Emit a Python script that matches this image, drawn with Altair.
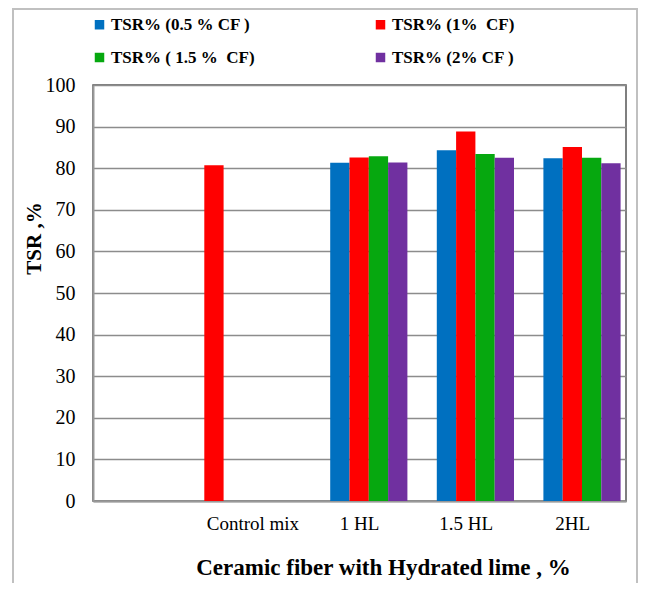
import altair as alt
import pandas as pd

categories = ["Control mix", "1 HL", "1.5 HL", "2HL"]
x_domain = [" "] + categories
series = ["TSR% (0.5 % CF )", "TSR% (1%\u00a0 CF)", "TSR% ( 1.5 %\u00a0 CF)", "TSR% (2% CF )"]
colors = ["#0070C0", "#FF0000", "#06A80F", "#7030A0"]

tsr_05 = [None, 81.3, 84.3, 82.4]
tsr_1 = [80.7, 82.6, 88.8, 85.1]
tsr_15 = [None, 82.9, 83.4, 82.5]
tsr_2 = [None, 81.4, 82.5, 81.2]
y_ticks = list(range(0, 101, 10))

rows = []
for k, vals in enumerate([tsr_05, tsr_1, tsr_15, tsr_2]):
    for g, v in zip(categories, vals):
        if v is None:
            continue
        # the control mix has a single bar, drawn in the leading slot of its group
        slot = "0" if g == "Control mix" else str(k + 1)
        rows.append({"group": g, "series": series[k], "value": v, "slot": slot})
df = pd.DataFrame(rows)

FONT = "Liberation Serif"

bars = alt.Chart(df).mark_bar().encode(
    x=alt.X("group:N", sort=x_domain,
            scale=alt.Scale(domain=x_domain, paddingInner=0, paddingOuter=0),
            axis=alt.Axis(title="Ceramic fiber with Hydrated lime , %", labelAngle=0,
                          ticks=False, labelPadding=13, labelOffset=0,
                          labelFontSize=19,
                          domainColor="#999999", domainWidth=2,
                          titlePadding=23, titleX=290)),
    xOffset=alt.XOffset("slot:N", scale=alt.Scale(domain=["0", "1", "2", "3", "4"],
                                                   range=[4.7, 101.2],
                                                   paddingInner=0, paddingOuter=0)),
    y=alt.Y("value:Q", scale=alt.Scale(domain=[0, 100]),
            axis=alt.Axis(title="TSR ,%", values=y_ticks, ticks=False, labelPadding=18,
                          labelFontSize=20,
                          domainColor="#999999", domainWidth=2,
                          gridColor="#8c8c8c", gridWidth=1.5,
                          titleX=-49, titleY=153, titleFontSize=21)),
    color=alt.Color("series:N", sort=series,
                    scale=alt.Scale(domain=series, range=colors),
                    legend=alt.Legend(title=None, orient="none", legendX=-2, legendY=-69,
                                      direction="horizontal", columns=2,
                                      columnPadding=117, rowPadding=15,
                                      symbolType="square", symbolSize=90,
                                      symbolStrokeWidth=0, labelFont=FONT,
                                      labelFontSize=17, labelFontWeight="bold",
                                      labelColor="#000000", labelOffset=3)),
)

frame = alt.Chart(df).mark_rect(fill=None, stroke="#c0c0c0", strokeWidth=2, clip=False).encode(
    x=alt.value(-80), x2=alt.value(544), y=alt.value(-76), y2=alt.value(500)
)

chart = alt.layer(frame, bars).properties(
    width=533, height=416,
    autosize=alt.AutoSizeParams(type="none"),
    padding={"left": 85, "top": 77, "right": 15, "bottom": 82},
).configure(
    font=FONT
).configure_view(
    stroke="#555555", strokeWidth=1.5
).configure_axis(
    labelFont=FONT, labelColor="#000000",
    titleFont=FONT, titleFontWeight="bold", titleColor="#000000",
    grid=True
).configure_axisX(
    grid=False, titleFontSize=23
)

chart.save("out.html", embed_options={"renderer": "svg", "actions": False})
